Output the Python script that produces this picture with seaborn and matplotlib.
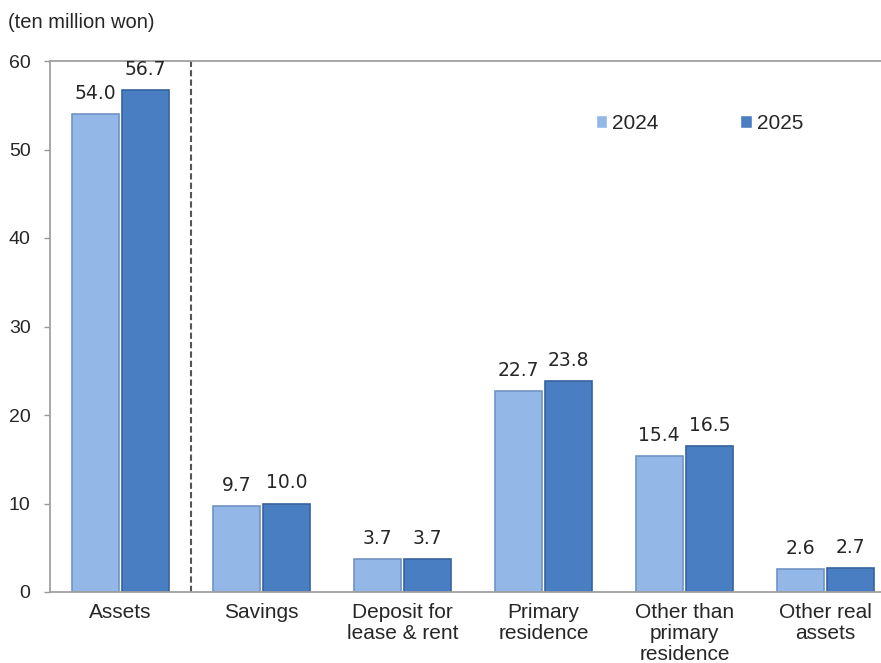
import pandas as pd
import matplotlib
matplotlib.use("Agg")
import matplotlib.pyplot as plt
import seaborn as sns

# data
categories = ["Assets", "Savings", "Deposit for\nlease & rent", "Primary\nresidence",
              "Other than\nprimary\nresidence", "Other real\nassets"]
values_2024 = [54.0, 9.7, 3.7, 22.7, 15.4, 2.6]
values_2025 = [56.7, 10.0, 3.7, 23.8, 16.5, 2.7]
years = ["2024", "2025"]
yticks = [0, 10, 20, 30, 40, 50, 60]

df = pd.DataFrame({
    "category": categories * 2,
    "value": values_2024 + values_2025,
    "year": [years[0]] * len(categories) + [years[1]] * len(categories),
})

sns.set_style("white")
plt.rcParams["font.family"] = ["Liberation Sans", "DejaVu Sans"]

fig = plt.figure(figsize=(8.81, 6.63), dpi=100)
# right edge of the plot runs past the picture like in the reference
ax = fig.add_axes([50 / 881, 71 / 663, 846 / 881, 531 / 663])

pal = {"2024": "#93b8e8", "2025": "#4a7ec2"}
sns.barplot(data=df, x="category", y="value", hue="year", palette=pal,
            width=0.716, gap=0.07, saturation=1, ax=ax, legend=True)

edges = {"2024": "#6f93c4", "2025": "#35639e"}
for cont, yr in zip(ax.containers, years):
    for bar in cont:
        bar.set_edgecolor(edges[yr])
        bar.set_linewidth(1.2)
    ax.bar_label(cont, fmt="%.1f", padding=8, fontsize=13.5,
                 family="DejaVu Sans", color="#262626")

ax.axvline(0.5, ymin=0, ymax=1, ls=(0, (3, 1.5)), color="#555555", lw=1.5)

ax.set_ylim(0, 60)
ax.set_xlim(-0.5, len(categories) - 0.5)
ax.set_yticks(yticks)
ax.set_xlabel("")
ax.set_ylabel("")
ax.tick_params(axis="y", length=4, width=1, color="#999999", pad=10, labelsize=14, left=True)
ax.tick_params(axis="x", length=0, pad=8, labelsize=15)
for lab in ax.get_xticklabels():
    lab.set_linespacing(1.12)
    lab.set_verticalalignment("top")

for s in ["left", "bottom", "top"]:
    ax.spines[s].set_color("#a0a0a0")
    ax.spines[s].set_linewidth(1.3)
ax.spines["right"].set_visible(False)

ax.legend(title=None, frameon=False, ncol=2, loc="upper left",
          bbox_to_anchor=(0.623, 0.936), handlelength=0.55, handleheight=0.55,
          handletextpad=0.25, columnspacing=3.9, prop={"size": 15})

fig.text(8 / 881, 1 - 22 / 663, "(ten million won)", fontsize=14.5, va="center", ha="left")

fig.savefig("out.png", dpi=100)
